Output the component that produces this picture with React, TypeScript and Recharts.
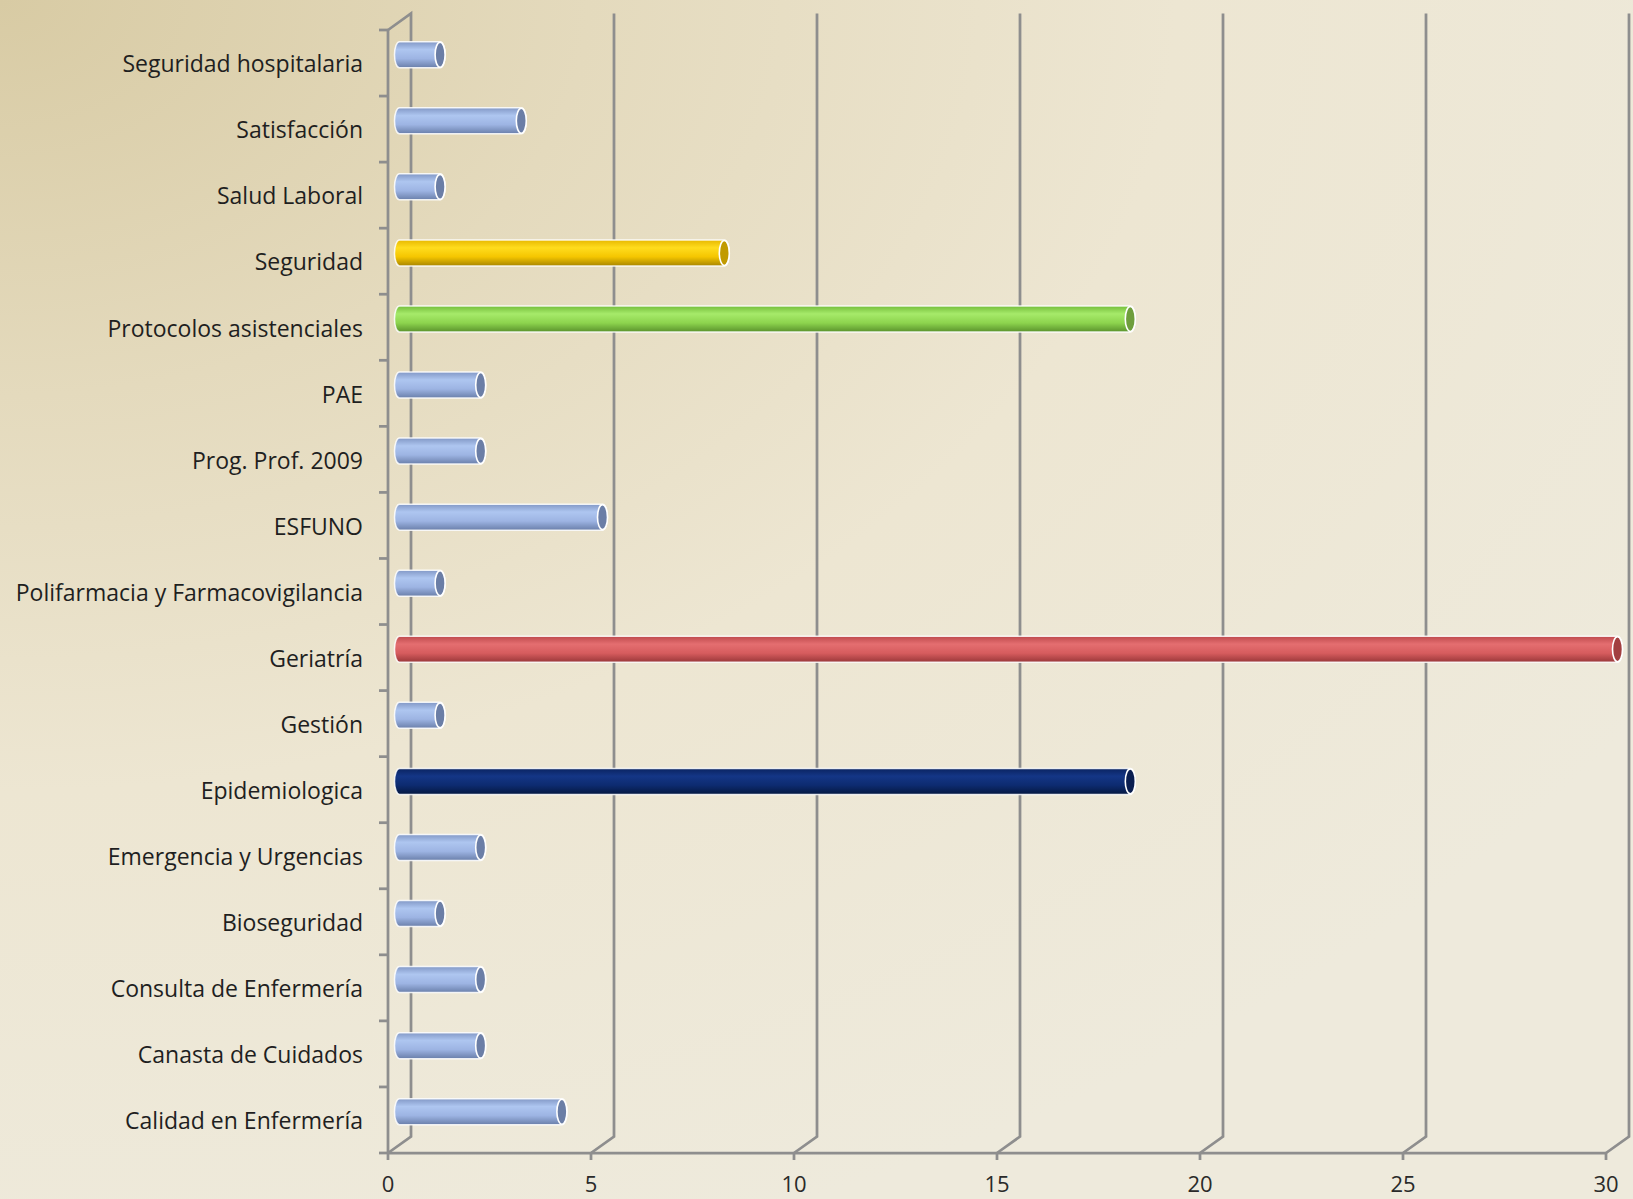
import React from 'react';
import { BarChart, Bar, XAxis, YAxis, CartesianGrid } from 'recharts';

const categories = [
  'Seguridad hospitalaria',
  'Satisfacción',
  'Salud Laboral',
  'Seguridad',
  'Protocolos asistenciales',
  'PAE',
  'Prog. Prof. 2009',
  'ESFUNO',
  'Polifarmacia y Farmacovigilancia',
  'Geriatría',
  'Gestión',
  'Epidemiologica',
  'Emergencia y Urgencias',
  'Bioseguridad',
  'Consulta de Enfermería',
  'Canasta de Cuidados',
  'Calidad en Enfermería',
];
const values = [1, 3, 1, 8, 18, 2, 2, 5, 1, 30, 1, 18, 2, 1, 2, 2, 4];
const xTicks = [0, 5, 10, 15, 20, 25, 30];
const barColorKeys = [
  'blue', 'blue', 'blue', 'yellow', 'green', 'blue', 'blue', 'blue', 'blue',
  'red', 'blue', 'navy', 'blue', 'blue', 'blue', 'blue', 'blue',
];

const PALETTES: Record<string, { stops: string[]; cap: string }> = {
  blue: { stops: ['#8298C6', '#AEC6F0', '#9DB4E3', '#6A7FAA'], cap: '#6B7EA6' },
  yellow: { stops: ['#E7B800', '#FFDC1E', '#F5C600', '#A88500'], cap: '#C19A00' },
  green: { stops: ['#74BD3A', '#A6EA6A', '#8DD44E', '#5A922C'], cap: '#6E9E3C' },
  red: { stops: ['#BE4A4D', '#E46E70', '#D65C5E', '#993739'], cap: '#A23F40' },
  navy: { stops: ['#0A2360', '#143686', '#0D2B70', '#051840'], cap: '#0A1E50' },
};

const data = categories.map((name, i) => ({ name, value: values[i] }));

const W = 1633;
const H = 1199;
const PLOT_LEFT = 388;
const PLOT_TOP = 30;
const PLOT_RIGHT = 27;
const PLOT_BOTTOM_H = 46;
const PLOT_BOTTOM = H - PLOT_BOTTOM_H;
const BAND = (PLOT_BOTTOM - PLOT_TOP) / categories.length;
const DEPTH_X = 23;
const DEPTH_Y = 16.5;
const GRID = '#8E8E8E';
const FONT = '"Open Sans", "Noto Sans", sans-serif';
const FONT_SIZE = 23;

function Cylinder(props: any) {
  const { x, y, width, height, index } = props;
  if (width == null || width <= 0) return <g />;
  const p = PALETTES[barColorKeys[index]] || PALETTES.blue;
  const X0 = x + DEPTH_X / 2;
  const X1 = x + width + DEPTH_X / 2;
  const Y = y - DEPTH_Y / 2;
  const h = height;
  const rx = 5;
  const ry = h / 2;
  const id = `cyl-grad-${index}`;
  return (
    <g>
      <defs>
        <linearGradient id={id} x1="0" y1="0" x2="0" y2="1">
          <stop offset="0" stopColor={p.stops[0]} />
          <stop offset="0.3" stopColor={p.stops[1]} />
          <stop offset="0.65" stopColor={p.stops[2]} />
          <stop offset="1" stopColor={p.stops[3]} />
        </linearGradient>
      </defs>
      <path
        d={`M${X0},${Y} L${X1},${Y} A${rx},${ry} 0 0 1 ${X1},${Y + h} L${X0},${Y + h} A${rx},${ry} 0 0 1 ${X0},${Y} Z`}
        fill={`url(#${id})`}
        stroke="#FFFFFF"
        strokeOpacity={0.85}
        strokeWidth={1.5}
      />
      <ellipse cx={X1} cy={Y + ry} rx={rx} ry={ry - 0.5} fill={p.cap} stroke="#FFFFFF" strokeWidth={1.6} />
    </g>
  );
}

function gridLine(props: any) {
  const { x1, y1, y2, index } = props;
  let d = `M${x1},${y2} L${x1 + DEPTH_X},${y2 - DEPTH_Y} L${x1 + DEPTH_X},${y1 - DEPTH_Y}`;
  if (index === 0) {
    d += ` L${x1},${y1}`;
  }
  return <path key={`grid-${index}-${x1}`} d={d} fill="none" stroke={GRID} strokeWidth={2.75} />;
}

function XTick(props: any) {
  const { x, payload } = props;
  return (
    <text x={x} y={PLOT_BOTTOM + 39} textAnchor="middle" fontSize={22} fontFamily={FONT} fill="#2A2A2A">
      {payload.value}
    </text>
  );
}

function YTick(props: any) {
  const { y, payload, index } = props;
  const last = index === categories.length - 1;
  return (
    <g>
      <line x1={PLOT_LEFT - 9} x2={PLOT_LEFT} y1={y - BAND / 2} y2={y - BAND / 2} stroke={GRID} strokeWidth={2.75} />
      {last && (
        <line x1={PLOT_LEFT - 9} x2={PLOT_LEFT} y1={y + BAND / 2} y2={y + BAND / 2} stroke={GRID} strokeWidth={2.75} />
      )}
      <text
        x={PLOT_LEFT - 25}
        y={y + 1}
        dy="0.36em"
        textAnchor="end"
        fontSize={FONT_SIZE}
        fontFamily={FONT}
        fill="#1F1F1F"
      >
        {payload.value}
      </text>
    </g>
  );
}

export default function App() {
  return (
    <div
      style={{
        position: 'absolute',
        left: 0,
        top: 0,
        width: W,
        height: H,
        overflow: 'hidden',
        background:
          'radial-gradient(ellipse 120% 110% at 0% 0%, #D8CBA4 0%, #E4DABD 30%, #EDE6D2 60%, #EEEADC 100%)',
      }}
    >
      <BarChart
        width={W}
        height={H}
        data={data}
        layout="vertical"
        margin={{ top: PLOT_TOP, right: PLOT_RIGHT, bottom: 0, left: 0 }}
        barCategoryGap={0}
      >
        <CartesianGrid horizontal={false} vertical={gridLine} />
        <XAxis
          type="number"
          domain={[0, 30]}
          ticks={xTicks}
          interval={0}
          height={PLOT_BOTTOM_H}
          axisLine={{ stroke: GRID, strokeWidth: 2.75 }}
          tickLine={{ stroke: GRID, strokeWidth: 2.75 }}
          tickSize={7}
          tick={<XTick />}
        />
        <YAxis
          type="category"
          dataKey="name"
          width={PLOT_LEFT}
          interval={0}
          axisLine={{ stroke: GRID, strokeWidth: 2.75 }}
          tickLine={false}
          tick={<YTick />}
        />
        <Bar dataKey="value" barSize={26} isAnimationActive={false} shape={<Cylinder />} />
      </BarChart>
    </div>
  );
}
